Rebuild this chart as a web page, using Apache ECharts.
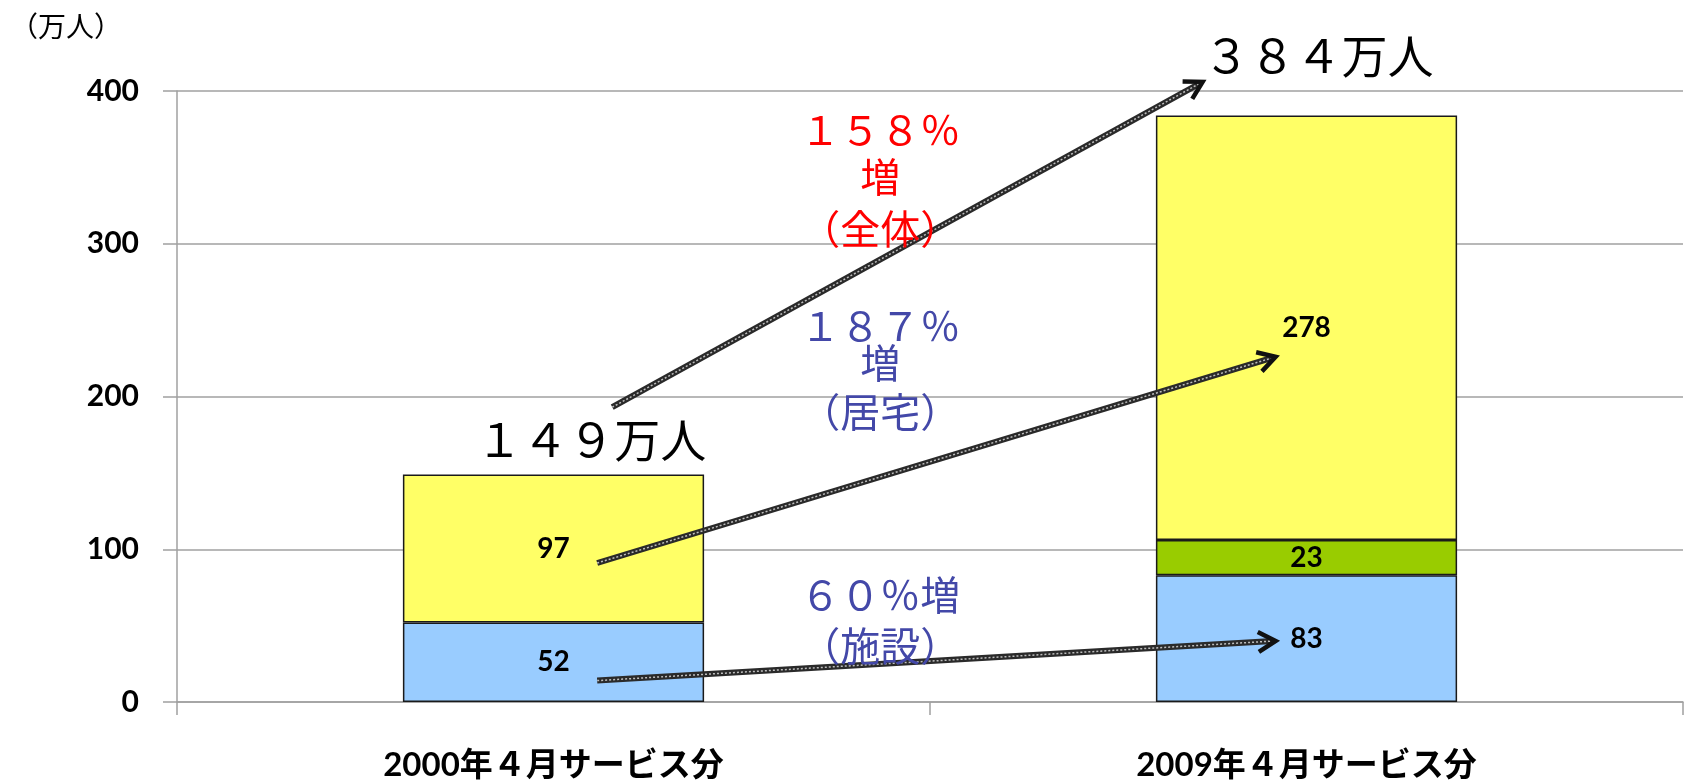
<!DOCTYPE html>
<html><head><meta charset="utf-8">
<script src="https://cdn.jsdelivr.net/npm/echarts@6/dist/echarts.min.js"></script>
<style>html,body{margin:0;padding:0;background:#fff;} #c{width:1684px;height:782px;}</style>
</head><body><div id="c"></div>
<script>
// ---- data ----
const categories = ['2000年４月サービス分', '2009年４月サービス分'];
const facility = [52, 83];        // 施設
const community = [null, 23];     // 地域密着
const home = [97, 278];           // 居宅
const yMin = 0, yMax = 400, yStep = 100;
const unitLabel = '（万人）';

// annotation anchors in data space: [category index (fractional), value]
const arrowFrom = [[0.078, 193], [0.058, 91], [0.058, 14]];
const arrowTo   = [[0.862, 406], [0.959, 226], [0.959, 40]];
const noteTexts = ['１４９万人', '３８４万人', '１５８％', '増', '（全体）', '１８７％', '増', '（居宅）', '６０％増', '（施設）'];
const noteAt    = [[0.05, 172], [1.016, 423.5], [0.434, 374.5], [0.434, 344], [0.434, 310], [0.434, 246.6], [0.434, 222], [0.434, 190], [0.434, 70], [0.434, 37]];
const noteKind  = ['total', 'total', 'all', 'all', 'all', 'home', 'home', 'home', 'home', 'home'];

const kindStyle = {
  total: {fill: '#000000', fontSize: 46},
  all: {fill: '#FF0000', fontSize: 40},
  home: {fill: '#4348A8', fontSize: 40}
};

const chart = echarts.init(document.getElementById('c'));
const labelFont = 'Lato, "Noto Sans CJK JP", sans-serif';
const barLabel = {show: true, position: 'inside', color: '#000', fontSize: 28, fontWeight: 'bold', fontFamily: labelFont};
const barBorder = {borderColor: '#1a1a1a', borderWidth: 1.5};

chart.setOption({
  animation: false,
  backgroundColor: '#fff',
  grid: {left: 177, right: 1, top: 91, bottom: 78, containLabel: false},
  xAxis: {
    type: 'category', data: categories,
    axisLine: {lineStyle: {color: '#A0A0A0', width: 1.5}},
    axisTick: {show: true, length: 13, lineStyle: {color: '#A0A0A0', width: 1.5}},
    axisLabel: {margin: 47, color: '#000', fontSize: 33, fontWeight: 'bold', fontFamily: labelFont}
  },
  yAxis: {
    type: 'value', min: yMin, max: yMax, interval: yStep,
    axisLine: {show: true, lineStyle: {color: '#A0A0A0', width: 1.5}},
    axisTick: {show: true, length: 14, lineStyle: {color: '#A0A0A0', width: 1.5}},
    splitLine: {lineStyle: {color: '#A0A0A0', width: 1.5}},
    axisLabel: {margin: 38, color: '#000', fontSize: 30, fontWeight: 'bold', fontFamily: labelFont}
  },
  series: [
    {name: '施設', type: 'bar', stack: 't', data: facility, barWidth: '40%', itemStyle: Object.assign({color: '#99CCFF'}, barBorder), label: barLabel},
    {name: '地域密着', type: 'bar', stack: 't', data: community, barWidth: '40%', itemStyle: Object.assign({color: '#99CC00'}, barBorder), label: barLabel},
    {name: '居宅', type: 'bar', stack: 't', data: home, barWidth: '40%', itemStyle: Object.assign({color: '#FFFF66'}, barBorder), label: barLabel}
  ]
});

function toPx(pt) {
  const c0 = chart.convertToPixel({xAxisIndex: 0}, 0);
  const c1 = chart.convertToPixel({xAxisIndex: 0}, 1);
  const x = c0 + pt[0] * (c1 - c0);
  const y = chart.convertToPixel({yAxisIndex: 0}, pt[1]);
  return [x, y];
}

const graphics = [];
graphics.push({type: 'text', left: 10, top: 12, z: 100, style: {text: unitLabel, fill: '#000', font: '28px "Noto Sans CJK JP"'}});

for (let i = 0; i < arrowFrom.length; i++) {
  const a = toPx(arrowFrom[i]), b = toPx(arrowTo[i]);
  const dx = b[0] - a[0], dy = b[1] - a[1];
  const len = Math.hypot(dx, dy);
  const ux = dx / len, uy = dy / len;
  const head = 20, ang = Math.PI / 6;
  const cos = Math.cos(ang), sin = Math.sin(ang);
  const arm1 = [b[0] - head * (ux * cos - uy * sin), b[1] - head * (uy * cos + ux * sin)];
  const arm2 = [b[0] - head * (ux * cos + uy * sin), b[1] - head * (uy * cos - ux * sin)];
  const end = [b[0] - ux * 3, b[1] - uy * 3];
  graphics.push({type: 'line', z: 90, shape: {x1: a[0], y1: a[1], x2: end[0], y2: end[1]}, style: {stroke: '#2a2a2a', lineWidth: 6}});
  graphics.push({type: 'line', z: 91, shape: {x1: a[0], y1: a[1], x2: end[0], y2: end[1]}, style: {stroke: '#bdbdbd', lineWidth: 1.5, lineDash: [2, 2]}});
  graphics.push({type: 'polyline', z: 92, shape: {points: [arm1, b, arm2]}, style: {stroke: '#111', lineWidth: 4.5, fill: null, lineJoin: 'miter'}});
}

for (let i = 0; i < noteTexts.length; i++) {
  const p = toPx(noteAt[i]);
  const s = kindStyle[noteKind[i]];
  graphics.push({type: 'text', x: p[0], y: p[1], z: 100, style: {
    text: noteTexts[i], fill: s.fill, fontSize: s.fontSize, fontFamily: '"Noto Sans CJK JP"',
    align: 'center', verticalAlign: 'middle', textAlign: 'center', textVerticalAlign: 'middle'
  }});
}
chart.setOption({graphic: graphics});
</script></body></html>
